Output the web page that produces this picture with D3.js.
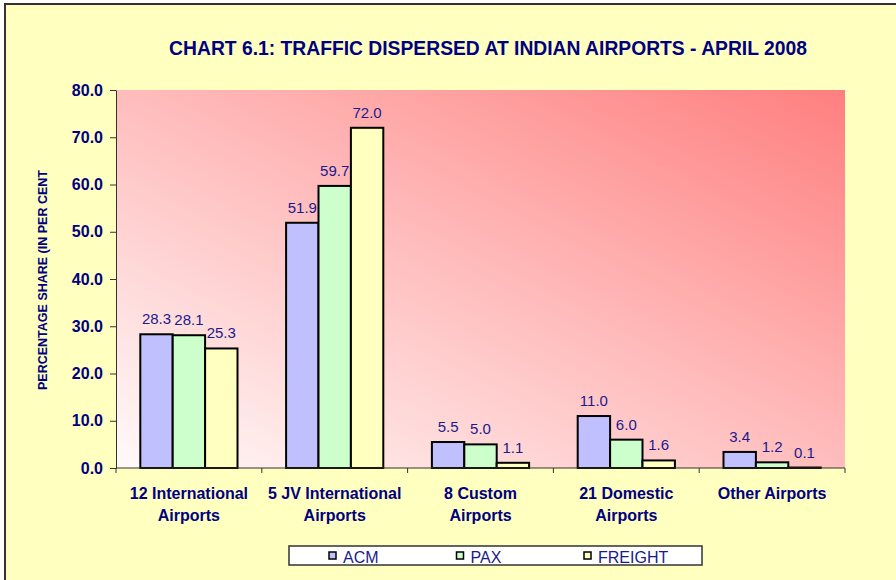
<!DOCTYPE html>
<html>
<head>
<meta charset="utf-8">
<script src="https://cdn.jsdelivr.net/npm/d3@7"></script>
<style>
  body { margin: 0; background: #ffffff; }
  svg { display: block; font-family: "Liberation Sans", Arial, sans-serif; }
</style>
</head>
<body>
<svg id="chart" width="896" height="580"></svg>
<script>
// chart values
const categories = [
  ["12 International", "Airports"],
  ["5 JV International", "Airports"],
  ["8 Custom", "Airports"],
  ["21 Domestic", "Airports"],
  ["Other Airports"]
];
const seriesNames = ["ACM", "PAX", "FREIGHT"];
const acm = [28.3, 51.9, 5.5, 11.0, 3.4];
const pax = [28.1, 59.7, 5.0, 6.0, 1.2];
const freight = [25.3, 72.0, 1.1, 1.6, 0.1];
const yTicks = [0, 10, 20, 30, 40, 50, 60, 70, 80];

const colors = { ACM: "#c0c0ff", PAX: "#ccffcc", FREIGHT: "#ffffc0" };
const navy = "#000080";

const svg = d3.select("#chart");
const plot = { left: 116, right: 845, top: 90, bottom: 468 };

// outer frame (cut off at right and bottom like the source)
svg.append("rect")
  .attr("x", 5).attr("y", 4)
  .attr("width", 900).attr("height", 590)
  .attr("fill", "#ffffc0")
  .attr("stroke", "#333").attr("stroke-width", 2);

const defs = svg.append("defs");
const grad = defs.append("linearGradient")
  .attr("id", "plot-bg")
  .attr("x1", 0).attr("y1", 1).attr("x2", 1).attr("y2", 0);
grad.append("stop").attr("offset", "0%").attr("stop-color", "#fffafa");
grad.append("stop").attr("offset", "100%").attr("stop-color", "#ff7f7f");

svg.append("rect")
  .attr("x", plot.left).attr("y", plot.top)
  .attr("width", plot.right - plot.left).attr("height", plot.bottom - plot.top)
  .attr("fill", "url(#plot-bg)");

const x = d3.scaleBand()
  .domain(d3.range(categories.length))
  .range([plot.left, plot.right]);

const xs = d3.scaleBand()
  .domain(seriesNames)
  .range([0, x.bandwidth()])
  .paddingOuter(0.75);

const y = d3.scaleLinear().domain([0, 80]).range([plot.bottom, plot.top]);

const rows = categories.map((c, i) => ({
  i,
  values: [
    { key: "ACM", v: acm[i] },
    { key: "PAX", v: pax[i] },
    { key: "FREIGHT", v: freight[i] }
  ]
}));

const groups = svg.selectAll(".cat")
  .data(rows)
  .enter().append("g")
    .attr("class", "cat")
    .attr("transform", d => `translate(${x(d.i)},0)`);

groups.selectAll("rect")
  .data(d => d.values)
  .enter().append("rect")
    .attr("x", d => xs(d.key))
    .attr("y", d => y(d.v))
    .attr("width", xs.bandwidth())
    .attr("height", d => y(0) - y(d.v))
    .attr("fill", d => colors[d.key])
    .attr("stroke", "#000")
    .attr("stroke-width", 2);

groups.selectAll(".val")
  .data(d => d.values)
  .enter().append("text")
    .attr("class", "val")
    .attr("x", d => xs(d.key) + xs.bandwidth() / 2)
    .attr("y", d => y(d.v) - 10)
    .attr("text-anchor", "middle")
    .attr("font-size", 15)
    .attr("fill", "#1a1a8c")
    .text(d => d.v.toFixed(1));

// y axis
const yAxis = svg.append("g")
  .attr("transform", `translate(${plot.left},0)`)
  .call(d3.axisLeft(y).tickValues(yTicks).tickSize(6).tickSizeOuter(0).tickFormat(d3.format(".1f")));
yAxis.select(".domain").attr("stroke", "#333");
yAxis.selectAll(".tick line").attr("stroke", "#333");
yAxis.selectAll("text")
  .attr("font-family", "Liberation Sans, Arial, sans-serif")
  .attr("font-size", 16)
  .attr("font-weight", "bold")
  .attr("fill", navy)
  .attr("x", -13);

// x axis with ticks on category boundaries
const xAxis = svg.append("g");
xAxis.append("line")
  .attr("x1", plot.left).attr("x2", plot.right)
  .attr("y1", plot.bottom).attr("y2", plot.bottom)
  .attr("stroke", "#333");
xAxis.selectAll(".xt")
  .data(d3.range(categories.length + 1))
  .enter().append("line")
    .attr("x1", i => i < categories.length ? x(i) : plot.right)
    .attr("x2", i => i < categories.length ? x(i) : plot.right)
    .attr("y1", plot.bottom).attr("y2", plot.bottom + 5)
    .attr("stroke", "#333");

const catLabels = svg.selectAll(".catlabel")
  .data(categories)
  .enter().append("text")
    .attr("class", "catlabel")
    .attr("text-anchor", "middle")
    .attr("font-size", 16)
    .attr("font-weight", "bold")
    .attr("fill", navy);
catLabels.selectAll("tspan")
  .data((d, i) => d.map(line => ({ line, i })))
  .enter().append("tspan")
    .attr("x", d => x(d.i) + x.bandwidth() / 2)
    .attr("y", (d, j) => 499 + j * 22)
    .text(d => d.line);

// y axis title
svg.append("text")
  .attr("transform", "translate(47,280) rotate(-90)")
  .attr("text-anchor", "middle")
  .attr("font-size", 12.5)
  .attr("font-weight", "bold")
  .attr("fill", navy)
  .text("PERCENTAGE SHARE (IN PER CENT");

// title
svg.append("text")
  .attr("x", 488).attr("y", 55)
  .attr("text-anchor", "middle")
  .attr("font-size", 19.3)
  .attr("font-weight", "bold")
  .attr("fill", navy)
  .text("CHART 6.1: TRAFFIC DISPERSED AT INDIAN AIRPORTS - APRIL 2008");

// legend
const legend = svg.append("g");
legend.append("rect")
  .attr("x", 289).attr("y", 546)
  .attr("width", 413).attr("height", 19)
  .attr("fill", "#fff")
  .attr("stroke", "#333").attr("stroke-width", 1.5);
const legendX = d3.scalePoint().domain(seriesNames).range([329, 584]);
const li = legend.selectAll(".li")
  .data(seriesNames)
  .enter().append("g")
    .attr("transform", d => `translate(${legendX(d)},552)`);
li.append("rect")
  .attr("width", 7).attr("height", 7)
  .attr("fill", d => colors[d])
  .attr("stroke", "#000").attr("stroke-width", 1.5);
li.append("text")
  .attr("x", 14).attr("y", 10.5)
  .attr("font-size", 16)
  .attr("fill", "#1a1a8c")
  .text(d => d);
</script>
</body>
</html>
